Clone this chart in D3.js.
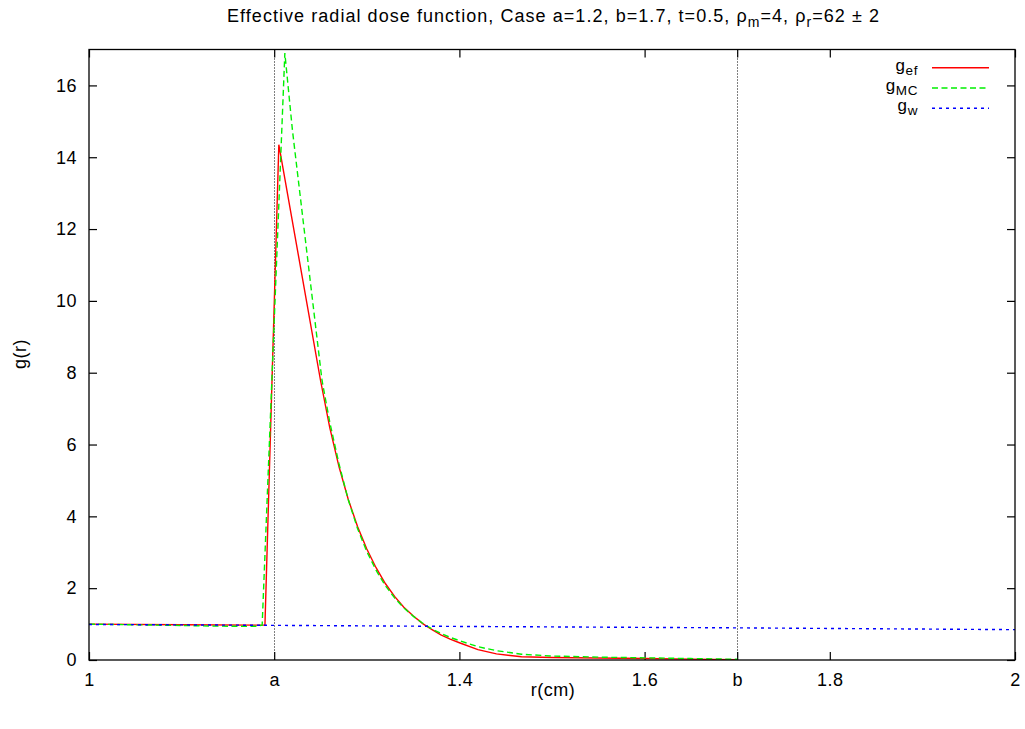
<!DOCTYPE html>
<html>
<head>
<meta charset="utf-8">
<script src="https://cdn.jsdelivr.net/npm/d3@7"></script>
<style>
  html, body { margin: 0; padding: 0; background: #fff; }
  svg { display: block; font-family: "Liberation Sans", Arial, Helvetica, sans-serif; }
</style>
</head>
<body>
<svg id="chart" width="1025" height="729"></svg>
<script>
// ---- data ----
const efR = [1.0, 1.1, 1.19, 1.205, 1.25, 1.26, 1.27, 1.28, 1.29, 1.30, 1.31, 1.32, 1.33, 1.34, 1.35, 1.36, 1.37, 1.38, 1.39, 1.40, 1.42, 1.44, 1.467, 1.50, 1.55, 1.60, 1.65, 1.70];
const efG = [1.0, 0.98, 0.97, 14.35, 7.79, 6.47, 5.38, 4.47, 3.72, 3.09, 2.57, 2.13, 1.77, 1.47, 1.23, 1.02, 0.85, 0.70, 0.58, 0.48, 0.29, 0.17, 0.09, 0.07, 0.055, 0.04, 0.025, 0.01];
const mcR = [1.0, 1.1, 1.15, 1.18, 1.187, 1.2115, 1.2197, 1.2516, 1.26, 1.27, 1.28, 1.29, 1.30, 1.31, 1.32, 1.33, 1.34, 1.35, 1.36, 1.37, 1.38, 1.39, 1.40, 1.42, 1.44, 1.467, 1.50, 1.55, 1.60, 1.65, 1.70];
const mcG = [1.0, 0.96, 0.94, 0.94, 0.97, 16.9, 14.75, 7.79, 6.62, 5.46, 4.46, 3.66, 3.02, 2.50, 2.07, 1.73, 1.45, 1.22, 1.03, 0.87, 0.74, 0.63, 0.54, 0.37, 0.26, 0.16, 0.11, 0.08, 0.06, 0.04, 0.02];
const wR = [1.0, 1.2, 1.4, 1.7, 2.0];
const wG = [0.99, 0.965, 0.935, 0.895, 0.845];
const xTickValues = [1, 1.2, 1.4, 1.6, 1.7, 1.8, 2];
const xTickLabels = ["1", "a", "1.4", "1.6", "b", "1.8", "2"];
const yTickValues = [0, 2, 4, 6, 8, 10, 12, 14, 16];
const markerLines = [1.2, 1.7];

// ---- layout ----
const svg = d3.select("#chart");
const mLeft = 89, mRight = 1015, mTop = 49.5, mBottom = 660;
const FS = 18;
const x = d3.scaleLinear().domain([1, 2]).range([mLeft, mRight]);
const y = d3.scaleLinear().domain([0, 17]).range([mBottom, mTop]);

// vertical dotted lines at a and b
svg.selectAll("line.marker").data(markerLines).join("line")
  .attr("class", "marker")
  .attr("x1", d => Math.round(x(d)) + 0.5).attr("x2", d => Math.round(x(d)) + 0.5)
  .attr("y1", mTop).attr("y2", mBottom)
  .attr("stroke", "#000").attr("stroke-width", 1)
  .attr("stroke-dasharray", "1,2");

// axes
const tickFmt = (d) => xTickLabels[xTickValues.indexOf(d)];
const xb = svg.append("g").attr("transform", `translate(0,${mBottom})`)
  .call(d3.axisBottom(x).tickValues(xTickValues).tickFormat(tickFmt).tickSizeInner(-8).tickSizeOuter(0).tickPadding(13));
const xt = svg.append("g").attr("transform", `translate(0,${mTop})`)
  .call(d3.axisTop(x).tickValues(xTickValues).tickFormat("").tickSizeInner(-8).tickSizeOuter(0));
const yl = svg.append("g").attr("transform", `translate(${mLeft},0)`)
  .call(d3.axisLeft(y).tickValues(yTickValues).tickFormat(d3.format("d")).tickSizeInner(-8).tickSizeOuter(0).tickPadding(12));
const yr = svg.append("g").attr("transform", `translate(${mRight},0)`)
  .call(d3.axisRight(y).tickValues(yTickValues).tickFormat("").tickSizeInner(-8).tickSizeOuter(0));
[xb, xt, yl, yr].forEach(g => {
  g.select(".domain").remove();
  g.selectAll("line").attr("stroke", "#000").attr("stroke-width", 1.2);
  g.selectAll("text").attr("font-size", FS).attr("fill", "#000").attr("letter-spacing", 0.5)
    .attr("font-family", "Liberation Sans, Arial, sans-serif");
});

// series
const line = d3.line().x(d => x(d[0])).y(d => y(d[1]));
svg.append("clipPath").attr("id", "clip").append("rect")
  .attr("x", mLeft).attr("y", mTop).attr("width", mRight - mLeft).attr("height", mBottom - mTop);
const GREEN = "#00f000";
const series = [
  { r: efR, g: efG, color: "#ff0000", dash: null, width: 1.4 },
  { r: mcR, g: mcG, color: GREEN, dash: "6,3.5", width: 1.4 },
  { r: wR, g: wG, color: "#0000ff", dash: "3,4", width: 1.4 }
];
series.forEach(s => {
  svg.append("path")
    .datum(s.r.map((v, i) => [v, s.g[i]]))
    .attr("clip-path", "url(#clip)")
    .attr("fill", "none").attr("stroke", s.color).attr("stroke-width", s.width)
    .attr("stroke-dasharray", s.dash)
    .attr("d", line);
});

// frame
svg.append("rect").attr("x", mLeft).attr("y", mTop).attr("width", mRight - mLeft).attr("height", mBottom - mTop)
  .attr("fill", "none").attr("stroke", "#000").attr("stroke-width", 1.3);

// legend
const legend = [
  { main: "g", sub: "ef", color: "#ff0000", dash: null },
  { main: "g", sub: "MC", color: GREEN, dash: "6,3.5" },
  { main: "g", sub: "w", color: "#0000ff", dash: "3,4" }
];
legend.forEach((d, i) => {
  const yy = 67.7 + i * 20.3;
  const t = svg.append("text").attr("x", 918).attr("y", yy + 3).attr("text-anchor", "end")
    .attr("font-size", 17).attr("fill", "#000").attr("letter-spacing", 0.6);
  t.append("tspan").text(d.main);
  t.append("tspan").attr("dy", 4).attr("font-size", 13.5).text(d.sub);
  svg.append("line").attr("x1", 932).attr("x2", 989).attr("y1", yy).attr("y2", yy)
    .attr("stroke", d.color).attr("stroke-width", 1.4).attr("stroke-dasharray", d.dash);
});

// title
const title = svg.append("text").attr("x", 553.5).attr("y", 22).attr("text-anchor", "middle")
  .attr("font-size", FS).attr("fill", "#000");
title.append("tspan").text("Effective radial dose function, Case a=1.2, b=1.7, t=0.5, ρ");
title.append("tspan").attr("dy", 4.5).attr("font-size", 14).text("m");
title.append("tspan").attr("dy", -4.5).text("=4, ρ");
title.append("tspan").attr("dy", 4.5).attr("font-size", 14).text("r");
title.append("tspan").attr("dy", -4.5).text("=62 ± 2");
// stretch spacing so the title spans the same width as in the reference
const tw = title.node().getComputedTextLength();
const nChars = title.text().length;
title.attr("letter-spacing", Math.max(0, (653 - tw) / nChars));

// axis labels
svg.append("text").attr("x", 553).attr("y", 696).attr("text-anchor", "middle")
  .attr("font-size", FS).attr("fill", "#000").attr("letter-spacing", 0.5).text("r(cm)");
svg.append("text").attr("transform", "translate(26,354) rotate(-90)").attr("text-anchor", "middle")
  .attr("font-size", FS).attr("fill", "#000").attr("letter-spacing", 0.5).text("g(r)");
</script>
</body>
</html>
